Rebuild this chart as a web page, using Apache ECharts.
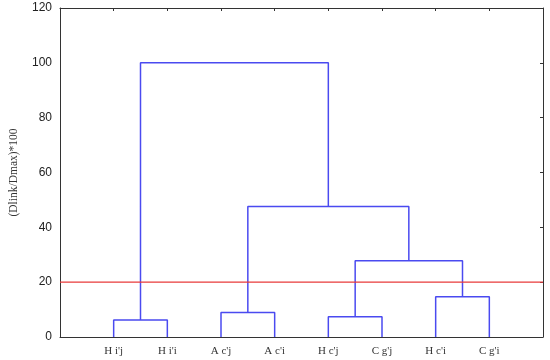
<!DOCTYPE html>
<html>
<head>
<meta charset="utf-8">
<script src="https://cdn.jsdelivr.net/npm/echarts@6/dist/echarts.min.js"></script>
<style>html,body{margin:0;padding:0;background:#fff}#c{width:550px;height:360px}</style>
</head>
<body>
<div id="c"></div>
<script>
// Leaf labels (left to right)
const leaves = ["H i'j", "H i'i", "A c'j", "A c'i", "H c'j", "C g'j", "H c'i", "C g'i"];
// Merge steps: [childA, childB, height]; node ids >= leaves.length are earlier merges
const merges = [
  [0, 1, 6.2],
  [2, 3, 8.9],
  [4, 5, 7.4],
  [6, 7, 14.7],
  [10, 11, 27.8],
  [9, 12, 47.6],
  [8, 13, 100]
];
const cutHeight = 20;
const yTicks = [0, 20, 40, 60, 80, 100, 120];
const yAxisName = '(Dlink/Dmax)*100';

// node positions
const pos = {};
leaves.forEach((l, i) => { pos[i] = { x: i + 1, h: 0 }; });
const segs = [];
merges.forEach((m, k) => {
  const a = pos[m[0]], b = pos[m[1]], h = m[2];
  segs.push([[a.x, a.h], [a.x, h], [b.x, h], [b.x, b.h]]);
  pos[leaves.length + k] = { x: (a.x + b.x) / 2, h: h };
});

const blue = '#4a4af0';
const series = segs.map(s => ({
  type: 'line', data: s, symbol: 'none', silent: true,
  lineStyle: { color: blue, width: 1.5 }, animation: false
}));
series.push({
  type: 'line', data: [[0, cutHeight], [leaves.length + 1, cutHeight]],
  symbol: 'none', silent: true, lineStyle: { color: '#e83a3a', width: 1.2 }, animation: false
});

const chart = echarts.init(document.getElementById('c'));
chart.setOption({
  animation: false,
  grid: { left: 55, top: 8, width: 488, height: 329 },
  xAxis: [{
    type: 'value', min: 0, max: leaves.length + 1, interval: 1,
    axisLine: { show: true, onZero: false, lineStyle: { color: '#333' } },
    axisTick: { show: false },
    splitLine: { show: false },
    axisLabel: {
      margin: 9, color: '#333', fontFamily: 'Liberation Serif', fontSize: 11,
      formatter: v => (v >= 1 && v <= leaves.length) ? leaves[v - 1] : ''
    }
  }, {
    type: 'value', position: 'top', min: 0, max: leaves.length + 1, interval: 1,
    axisLine: { show: true, onZero: false, lineStyle: { color: '#333' } },
    axisTick: { show: true, inside: true, length: 3, lineStyle: { color: '#333' } },
    axisLabel: { show: false }, splitLine: { show: false }
  }],
  yAxis: [{
    type: 'value', min: yTicks[0], max: yTicks[yTicks.length - 1], interval: 20,
    name: yAxisName, nameLocation: 'middle', nameGap: 40,
    nameTextStyle: { fontFamily: 'Liberation Serif', fontSize: 11.5, color: '#333' },
    axisLine: { show: true, onZero: false, lineStyle: { color: '#333' } },
    axisTick: { show: false },
    splitLine: { show: false },
    axisLabel: { margin: 8, color: '#222', fontFamily: 'Liberation Sans', fontSize: 12 }
  }, {
    type: 'value', position: 'right', min: 0, max: 120, interval: 20,
    axisLine: { show: true, onZero: false, lineStyle: { color: '#333' } },
    axisTick: { show: true, inside: true, length: 3, lineStyle: { color: '#333' } },
    axisLabel: { show: false }, splitLine: { show: false }
  }],
  series: series
});
</script>
</body>
</html>
